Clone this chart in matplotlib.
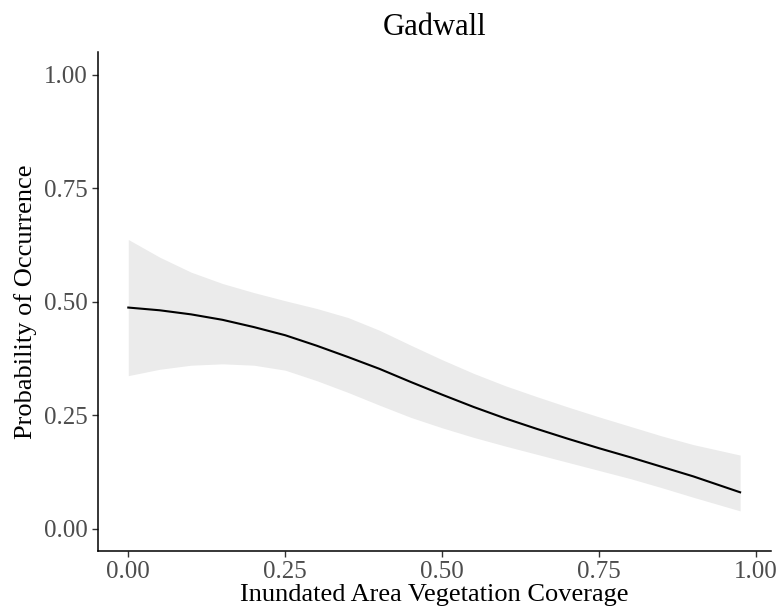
import matplotlib
matplotlib.use("Agg")
import matplotlib.pyplot as plt

# values
coverage = [0.00, 0.05, 0.10, 0.15, 0.20, 0.25, 0.30, 0.35, 0.40, 0.45,
            0.50, 0.55, 0.60, 0.65, 0.70, 0.75, 0.80, 0.85, 0.90, 0.9745]
prob = [0.487, 0.481, 0.472, 0.460, 0.444, 0.426, 0.403, 0.378, 0.352, 0.323,
        0.295, 0.268, 0.243, 0.220, 0.198, 0.177, 0.157, 0.136, 0.115, 0.080]
upper = [0.637, 0.598, 0.565, 0.540, 0.520, 0.502, 0.485, 0.465, 0.437, 0.404,
         0.372, 0.342, 0.315, 0.291, 0.268, 0.246, 0.225, 0.204, 0.185, 0.162]
lower = [0.337, 0.351, 0.360, 0.363, 0.360, 0.349, 0.326, 0.300, 0.272, 0.245,
         0.222, 0.201, 0.182, 0.164, 0.146, 0.128, 0.110, 0.090, 0.069, 0.039]
ticks = [0.00, 0.25, 0.50, 0.75, 1.00]
tick_labels = ["0.00", "0.25", "0.50", "0.75", "1.00"]

plt.rcParams['font.family'] = ['Liberation Serif', 'DejaVu Serif']

fig = plt.figure(figsize=(7.78, 6.15), dpi=100)
ax = fig.add_axes([0.1256, 0.1036, 0.865, 0.8118])

ax.fill_between(coverage, lower, upper, color='#EBEBEB', linewidth=0)
ax.plot(coverage, prob, color='black', linewidth=1.5)

ax.set_xlim(-0.0487, 1.0232)
ax.set_ylim(-0.05, 1.05)
ax.set_xticks(ticks)
ax.set_xticklabels(tick_labels)
ax.set_yticks(ticks)
ax.set_yticklabels(tick_labels)

for s in ['top', 'right']:
    ax.spines[s].set_visible(False)
for s in ['left', 'bottom']:
    ax.spines[s].set_linewidth(1.1)
    ax.spines[s].set_color('black')

ax.tick_params(axis='both', length=4, width=1.0, color='#333333',
               labelsize=18, labelcolor='#4D4D4D', pad=3)

ax.set_title("Gadwall", fontsize=22, pad=12)
ax.set_xlabel("Inundated Area Vegetation Coverage", fontsize=19, labelpad=1)
ax.set_ylabel("Probability of Occurrence", fontsize=19, labelpad=5)

fig.savefig("out.png", dpi=100)
